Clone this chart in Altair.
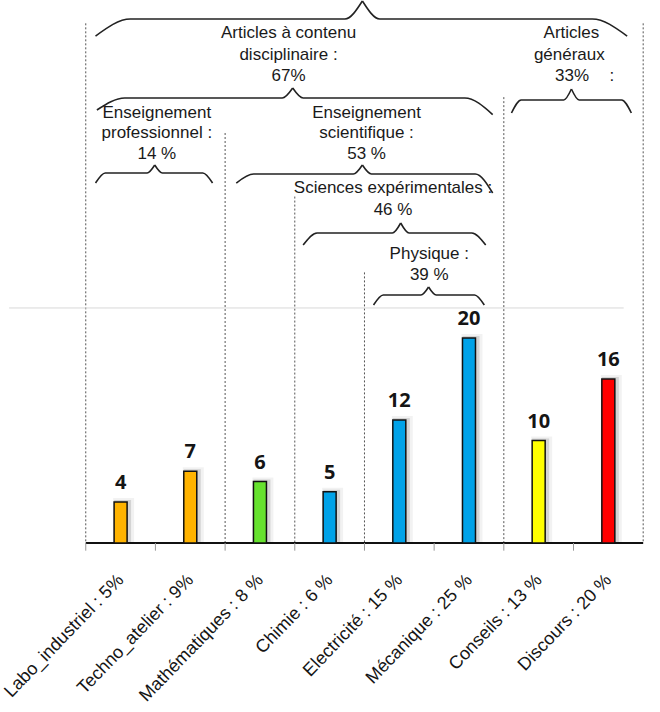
import json
import altair as alt
import pandas as pd

# ---------------- data ----------------
categories = ["Labo_industriel : 5%", "Techno_atelier : 9%", "Mathématiques : 8 %",
              "Chimie : 6 %", "Electricité : 15 %", "Mécanique : 25 %",
              "Conseils : 13 %", "Discours : 20 %"]
values = [4, 7, 6, 5, 12, 20, 10, 16]
colors = ["#FFB300", "#FFB300", "#66E22E", "#00A2E8", "#00A2E8", "#00A2E8", "#FFFF00", "#FF0000"]

# group boundaries (in category units) and how high each dashed separator rises
sep_pos = [0, 2, 3, 4, 6, 8]
sep_top = [50.7, 40.0, 33.8, 26.4, 43.5, 50.7]

# annotation text lines: (x in category units, y in value units, text)
notes = [
    (2.91, 49.76, "Articles à contenu"), (2.91, 47.61, "disciplinaire :"), (2.91, 45.56, "67%"),
    (6.97, 49.76, "Articles"), (6.94, 47.61, "généraux"), (6.98, 45.56, "33%"), (7.55, 45.56, ":"),
    (1.02, 41.95, "Enseignement"), (1.02, 40.0, "professionnel :"), (1.02, 37.95, "14 %"),
    (4.03, 41.95, "Enseignement"), (4.03, 40.0, "scientifique :"), (4.03, 37.95, "53 %"),
    (4.41, 34.63, "Sciences expérimentales :"), (4.41, 32.49, "46 %"),
    (4.93, 28.2, "Physique :"), (4.93, 26.15, "39 %"),
]

# braces: left, right, level, left end, right end, tip x, tip y, end curl, tip shoulder
braces = [
    (0.14, 7.77, 51.12, 49.46, 49.46, 3.97, 52.88, 0.50, 0.25),
    (0.16, 5.84, 43.41, 42.24, 41.80, 2.97, 44.39, 0.40, 0.15),
    (6.11, 7.83, 43.22, 41.95, 41.95, 6.97, 44.29, 0.14, 0.11),
    (0.14, 1.82, 36.10, 35.12, 35.12, 0.99, 36.88, 0.14, 0.11),
    (2.16, 5.84, 36.00, 35.12, 34.15, 3.97, 36.88, 0.25, 0.13),
    (3.12, 5.74, 30.24, 29.07, 29.07, 4.52, 31.22, 0.20, 0.12),
    (4.13, 5.72, 24.20, 23.22, 23.22, 4.92, 24.98, 0.14, 0.11),
]
ref_line = 22.93

# ---------------- tables ----------------
n = len(categories)
bars_df = pd.DataFrame({"cat": categories, "value": values, "color": colors,
                        "pos": [i + 0.5 for i in range(n)], "zero": [0] * n})

brace_rows = []
for b, (L, R, h, eL, eR, t, ty, re, rt) in enumerate(braces):
    left = [(L, eL), (L + re, h), (t - rt, h), (t, ty)]
    right = [(t, ty), (t + rt, h), (R - re, h), (R, eR)]
    for half, pts in (("l", left), ("r", right)):
        for k, (u, v) in enumerate(pts):
            brace_rows.append({"seg": f"{b}{half}", "k": k, "u": u, "v": v})
brace_df = pd.DataFrame(brace_rows)

sep_df = pd.DataFrame({"u": sep_pos, "top": sep_top, "zero": [0] * len(sep_pos)})
notes_df = pd.DataFrame(notes, columns=["u", "v", "text"])
ticks_df = pd.DataFrame({"u": list(range(n)), "y0": [0] * n, "y1": [-0.75] * n})
hlines_df = pd.DataFrame({"u0": [-1.1, 0], "u1": [7.72, 8], "v": [ref_line, 0],
                          "kind": ["ref", "axis"]})

# ---------------- scales / axis ----------------
xs = alt.Scale(domain=[-1.15901, 8.16961], nice=False, zero=False)
ys = alt.Scale(domain=[-1.6585, 52.9756], nice=False, zero=False)

label_expr = "[" + ",".join(json.dumps(c) for c in categories) + "][floor(datum.value)]"

x_axis = alt.Axis(values=[i + 0.5 for i in range(n)], labelExpr=label_expr,
                  labelAngle=-46, labelAlign="right", labelBaseline="middle",
                  labelPadding=17, labelFontSize=18, labelLimit=0,
                  labelFont="Liberation Sans",
                  labelColor="#151515", ticks=False, domain=False, grid=False,
                  title=None, labelOverlap=False, labelFlush=False)


def X(field):
    return alt.X(field, scale=xs, axis=x_axis)


def Y(field):
    return alt.Y(field, scale=ys, axis=None)


base = alt.Chart(bars_df)

shadow1 = base.mark_bar(size=21, color="#000", opacity=0.05, xOffset=3, yOffset=-4).encode(
    x=X("pos:Q"), y=Y("value:Q"), y2="zero:Q")
shadow2 = base.mark_bar(size=17, color="#000", opacity=0.12, xOffset=2, yOffset=-2).encode(
    x=X("pos:Q"), y=Y("value:Q"), y2="zero:Q")

bars = base.mark_bar(size=13, stroke="#111", strokeWidth=1.5).encode(
    x=X("pos:Q"), y=Y("value:Q"), y2="zero:Q",
    fill=alt.Fill("color:N", scale=None))

value_labels = base.mark_text(font="Open Sans", fontWeight="bold",
                              fontSize=20, color="#151515", baseline="alphabetic",
                              dy=-13).encode(
    x=X("pos:Q"), y=Y("value:Q"), text="value:Q")

seps = alt.Chart(sep_df).mark_rule(color="#555", strokeWidth=1, strokeDash=[2, 2]).encode(
    x=X("u:Q"), y=Y("top:Q"), y2="zero:Q")

hlines = alt.Chart(hlines_df).mark_rule().encode(
    x=X("u0:Q"), x2="u1:Q", y=Y("v:Q"),
    color=alt.Color("kind:N", scale=alt.Scale(domain=["ref", "axis"], range=["#d8d8d8", "#111"]),
                    legend=None),
    strokeWidth=alt.StrokeWidth("kind:N", scale=alt.Scale(domain=["ref", "axis"], range=[1, 2]),
                                legend=None))

ticks = alt.Chart(ticks_df).mark_rule(color="#999", strokeWidth=1).encode(
    x=X("u:Q"), y=Y("y0:Q"), y2="y1:Q")

brace_lines = alt.Chart(brace_df).mark_line(color="#222", strokeWidth=1.6,
                                            interpolate="monotone").encode(
    x=X("u:Q"), y=Y("v:Q"), detail="seg:N", order="k:Q")

note_text = alt.Chart(notes_df).mark_text(font="Liberation Sans", fontSize=17,
                                          color="#1a1a1a", align="center",
                                          baseline="middle").encode(
    x=X("u:Q"), y=Y("v:Q"), text="text:N")

chart = alt.layer(shadow1, shadow2, seps, hlines, ticks, bars, brace_lines,
                  note_text, value_labels).properties(
    width=660, height=560,
    padding={"left": 0, "top": 0, "right": 0, "bottom": 152},
    autosize=alt.AutoSizeParams(type="none"),
).configure_view(stroke=None)

chart.save("out.html", embed_options={"renderer": "svg", "actions": False})
